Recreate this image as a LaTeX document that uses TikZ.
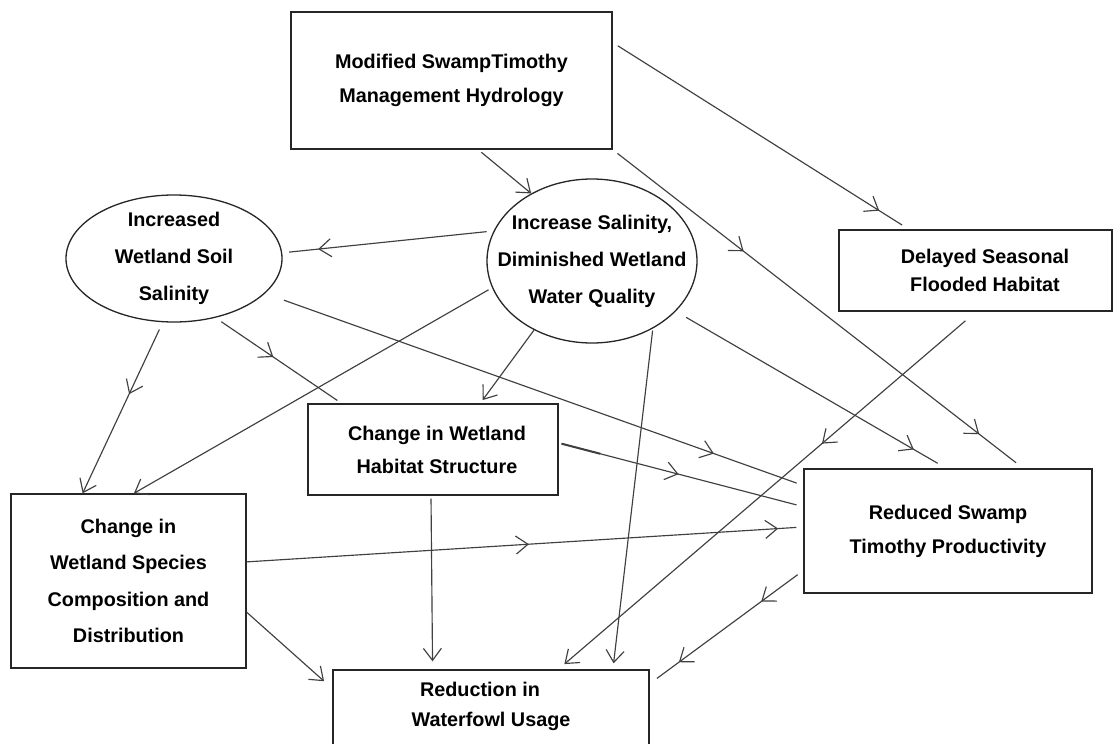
\documentclass[tikz,border=0pt]{standalone}
\usepackage{fontspec}
\setmainfont{Liberation Sans}
\usetikzlibrary{calc,arrows.meta,decorations.markings,shapes.geometric}
\newcommand\nfont[1]{\fontsize{19.8pt}{#1pt}\selectfont\bfseries}
\tikzset{
  tipb/.tip={Straight Barb[length=12pt,width=18pt]},
  box/.style={draw=black!85, line width=1.4pt, rectangle, inner sep=0pt, align=center},
  ovl/.style={draw=black!85, line width=1.3pt, ellipse, inner xsep=-45pt, inner ysep=-14pt, align=center},
  conn/.style={draw=black!75, line width=1.15pt},
  headat/.style={postaction={decorate,decoration={markings,mark=at position #1 with {\arrow{tipb}}}}},
}
\begin{document}
\begin{tikzpicture}[x=1pt,y=-1pt]
\fill[white] (0,0) rectangle (1114,744);
\clip (0,0) rectangle (1114,744);
% nodes
\node[box, minimum width=321pt, minimum height=137pt, font={\nfont{34}}] (mod) at (451.5,80.5) {Modified SwampTimothy\\Management Hydrology};
\node[ovl, minimum width=216pt, minimum height=127pt, font={\nfont{37}}] (ells) at (174,258.5) {Increased\\Wetland Soil\\Salinity};
\node[ovl, minimum width=210pt, minimum height=164pt, font={\nfont{37}}] (circ) at (592,261) {Increase Salinity,\\Diminished Wetland\\Water Quality};
\node[box, minimum width=273pt, minimum height=81pt, font={\nfont{28}}] (delay) at (975.5,270.5) {\hspace*{19pt}Delayed Seasonal\\\hspace*{19pt}Flooded Habitat};
\node[box, minimum width=250pt, minimum height=91pt, font={\nfont{33}}] (hab) at (433,449.5) {\hspace*{8pt}Change in Wetland\\\hspace*{8pt}Habitat Structure};
\node[box, minimum width=235pt, minimum height=174pt, font={\nfont{36.5}}] (spec) at (128.5,581) {Change in\\Wetland Species\\Composition and\\Distribution};
\node[box, minimum width=288pt, minimum height=124pt, font={\nfont{34}}] (red) at (948,531) {Reduced Swamp\\Timothy Productivity};
\node[box, minimum width=316pt, minimum height=108pt, font={\nfont{30}}] (redn) at (491,724) {Reduction in\hspace*{22pt}\\Waterfowl Usage\hspace*{22pt}\\\strut};
% connectors
\draw[conn, -{tipb}, shorten <=4pt] ($(mod.south west)!0.583!(mod.south east)$) -- (circ.132);
\draw[conn, headat=0.9, shorten <=6pt, shorten >=8pt] ($(mod.north east)!0.226!(mod.south east)$) -- ($(delay.north west)!0.257!(delay.north east)$);
\draw[conn, headat=0.83, shorten <=7pt, shorten >=7pt] (circ.163) -- (ells.3);
\draw[conn, headat=0.834, shorten <=20pt, shorten >=7pt] (ells.-21) -- ($(red.north west)!0.137!(red.south west)$);
\draw[conn, headat=0.459, shorten <=7pt, shorten >=5pt] (ells.-55) -- ($(hab.north west)!0.136!(hab.north east)$);
\draw[conn, headat=0.42, -{tipb}, shorten <=8pt] (ells.-100) -- ($(spec.north west)!0.306!(spec.north east)$);
\draw[conn, -{tipb}, shorten <=4pt] (circ.195) -- ($(spec.north west)!0.523!(spec.north east)$);
\draw[conn, -{tipb}, shorten >=4pt] (circ.-130) -- ($(hab.north west)!0.688!(hab.north east)$);
\draw[conn, -{tipb}, shorten <=2pt, shorten >=6pt] (circ.-48) -- ($(redn.north west)!0.884!(redn.north east)$);
\draw[conn, headat=0.88, shorten <=12pt, shorten >=10pt] (circ.-31) -- ($(red.north west)!0.494!(red.north east)$);
\draw[conn, headat=0.319, headat=0.893, shorten <=6pt, shorten >=9pt] (mod.south east) -- ($(red.north west)!0.760!(red.north east)$);
\draw[conn, headat=0.369, -{tipb}, shorten <=14pt, shorten >=8pt] ($(delay.south west)!0.502!(delay.south east)$) -- ($(redn.north west)!0.712!(redn.north east)$);
\draw[conn, headat=0.49, shorten <=3pt, shorten >=7pt] ($(hab.north east)!0.429!(hab.south east)$) -- ($(red.north west)!0.306!(red.south west)$);
\draw[conn, line width=2pt, shorten <=3pt] ($(hab.north east)!0.429!(hab.south east)$) -- ($(hab.north east)!0.429!(hab.south east)!0.17!($(red.north west)!0.306!(red.south west)$)$);
\draw[conn, headat=0.507, headat=0.955, shorten >=7pt] ($(spec.north east)!0.391!(spec.south east)$) -- ($(red.north west)!0.468!(red.south west)$);
\draw[conn, -{tipb}, shorten <=3pt, shorten >=8pt] ($(hab.south west)!0.492!(hab.south east)$) -- ($(redn.north west)!0.316!(redn.north east)$);
\draw[conn, -{tipb}, shorten >=11pt] ($(spec.north east)!0.678!(spec.south east)$) -- ($(redn.north west)!0.176!(redn.south west)$);
\draw[conn, headat=0.274, headat=0.81, shorten <=7pt, shorten >=9pt] ($(red.north west)!0.815!(red.south west)$) -- ($(redn.north east)!0.132!(redn.south east)$);
\end{tikzpicture}
\end{document}
